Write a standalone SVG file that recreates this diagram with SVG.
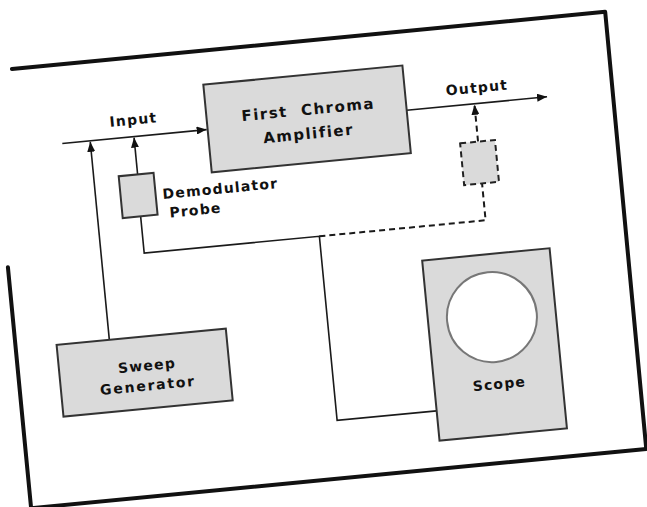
<svg xmlns="http://www.w3.org/2000/svg" width="647" height="507" viewBox="0 0 647 507">
  <defs>
    <marker id="arr" markerUnits="userSpaceOnUse" markerWidth="10" markerHeight="8" refX="10" refY="4" orient="auto">
      <path d="M0,0 L10,4 L0,8 z" fill="#111"/>
    </marker>
    <style>
      .frame{fill:none;stroke:#111;stroke-width:4;stroke-linejoin:round;stroke-linecap:round}
      .box{fill:#dadada;stroke:#333;stroke-width:2}
      .dbox{fill:#dadada;stroke:#222;stroke-width:2;stroke-dasharray:6 4}
      .ln{fill:none;stroke:#1a1a1a;stroke-width:1.6}
      .dl{fill:none;stroke:#1a1a1a;stroke-width:2;stroke-dasharray:6 4}
      .t{font-family:"DejaVu Sans","Liberation Sans",sans-serif;font-weight:bold;font-size:14px;letter-spacing:1.2px;fill:#111}
      .tl{font-size:15px;letter-spacing:1.5px}
    </style>
  </defs>
  <rect width="647" height="507" fill="#fff"/>
  <g transform="rotate(-5.5 323 253)">
    <g id="frame">
      <path class="frame" d="M31,40 L627,40 L626,479 L8,479"/>
      <path class="frame" d="M8,237 L8,479"/>
    </g>
    <g id="connectors">
      <path class="ln" d="M74,119 L219,119" marker-end="url(#arr)"/>
      <path class="ln" d="M420,119 L561,119" marker-end="url(#arr)"/>
      <path class="ln" d="M102,319 L102,120" marker-end="url(#arr)"/>
      <path class="ln" d="M146,157 L146,120" marker-end="url(#arr)"/>
      <path class="ln" d="M145,199 L145,236 L321,236 L321,421 L421,421"/>
      <path class="dl" d="M321,236 L488,236 L488,199"/>
      <path class="dl" d="M488,157 L488,120" marker-end="url(#arr)"/>
    </g>
    <g id="amplifier">
      <rect class="box" x="220" y="74" width="200" height="88"/>
      <text class="t tl" x="322" y="114" text-anchor="middle" xml:space="preserve">First  Chroma</text>
      <text class="t tl" x="320" y="138" text-anchor="middle">Amplifier</text>
    </g>
    <g id="input-label">
      <text class="t" x="147" y="107" text-anchor="middle">Input</text>
    </g>
    <g id="output-label">
      <text class="t" x="492" y="108" text-anchor="middle">Output</text>
    </g>
    <g id="probe">
      <rect class="box" x="127" y="157" width="35" height="42"/>
      <text class="t" x="169" y="184">Demodulator</text>
      <text class="t" x="174" y="203">Probe</text>
    </g>
    <g id="output-probe">
      <rect class="dbox" x="470" y="157" width="35" height="42"/>
    </g>
    <g id="sweep">
      <rect class="box" x="49" y="319" width="170" height="72"/>
      <text class="t" x="137" y="353" text-anchor="middle">Sweep</text>
      <text class="t" x="136" y="373" text-anchor="middle" style="letter-spacing:1.8px">Generator</text>
    </g>
    <g id="scope">
      <rect class="box" x="421" y="270" width="128" height="181"/>
      <circle cx="485" cy="333" r="45" fill="#fff" stroke="#777" stroke-width="2"/>
      <text class="t" x="486" y="405" text-anchor="middle">Scope</text>
    </g>
  </g>
</svg>
